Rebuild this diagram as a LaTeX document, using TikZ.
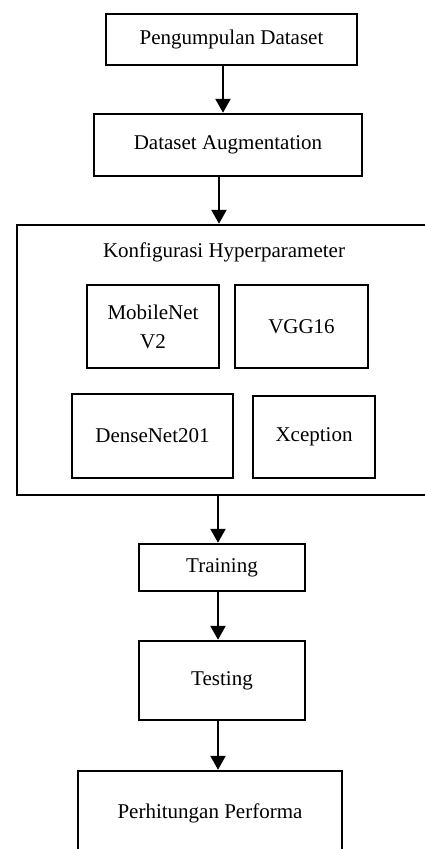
\documentclass[tikz,border=0pt]{standalone}
\usepackage{fontspec}
\setmainfont{Liberation Serif}
\usetikzlibrary{arrows.meta}
\begin{document}
\begin{tikzpicture}[x=1pt,y=-1pt,
 box/.style={draw,line width=2.5pt,inner sep=0pt,align=center,font=\fontsize{21}{29}\selectfont},
 lbl/.style={inner sep=0pt,align=center,font=\fontsize{21}{29}\selectfont},
 arr/.style={line width=2.5pt,-{Triangle[width=15pt,length=14pt]}}]
\useasboundingbox (0,0) rectangle (425,849);
\clip (0,0) rectangle (425,849);
\node[box,minimum width=251pt,minimum height=51pt] (b1) at (231.5,39.5) {Pengumpulan Dataset};
\node[box,minimum width=268pt,minimum height=62pt] (b2) at (228,145) {Dataset Augmentation};
\node[box,minimum width=422pt,minimum height=270pt] (cfg) at (228,360) {};
\node[lbl] (title) at (224,252) {Konfigurasi Hyperparameter};
\node[box,minimum width=132pt,minimum height=83pt] (m1) at (153,326.5) {MobileNet\\V2};
\node[box,minimum width=133pt,minimum height=83pt] (m2) at (301.5,326.5) {VGG16};
\node[box,minimum width=161pt,minimum height=84pt] (m3) at (152.5,436) {DenseNet201};
\node[box,minimum width=122pt,minimum height=82pt] (m4) at (314,437) {Xception};
\node[box,minimum width=166pt,minimum height=47pt] (tr) at (222,567.5) {Training};
\node[box,minimum width=166pt,minimum height=79pt] (te) at (222,680.5) {Testing};
\node[box,minimum width=264pt,minimum height=84pt] (pp) at (210,813) {Perhitungan Performa};
\coordinate (xa) at (223,0);
\coordinate (xb) at (219,0);
\coordinate (xc) at (218,0);
\draw[arr] (b1.south -| xa) -- (b2.north -| xa);
\draw[arr] (b2.south -| xb) -- (cfg.north -| xb);
\draw[arr] (cfg.south -| xc) -- (tr.north -| xc);
\draw[arr] (tr.south -| xc) -- (te.north -| xc);
\draw[arr] (te.south -| xc) -- (pp.north -| xc);
\end{tikzpicture}
\end{document}
